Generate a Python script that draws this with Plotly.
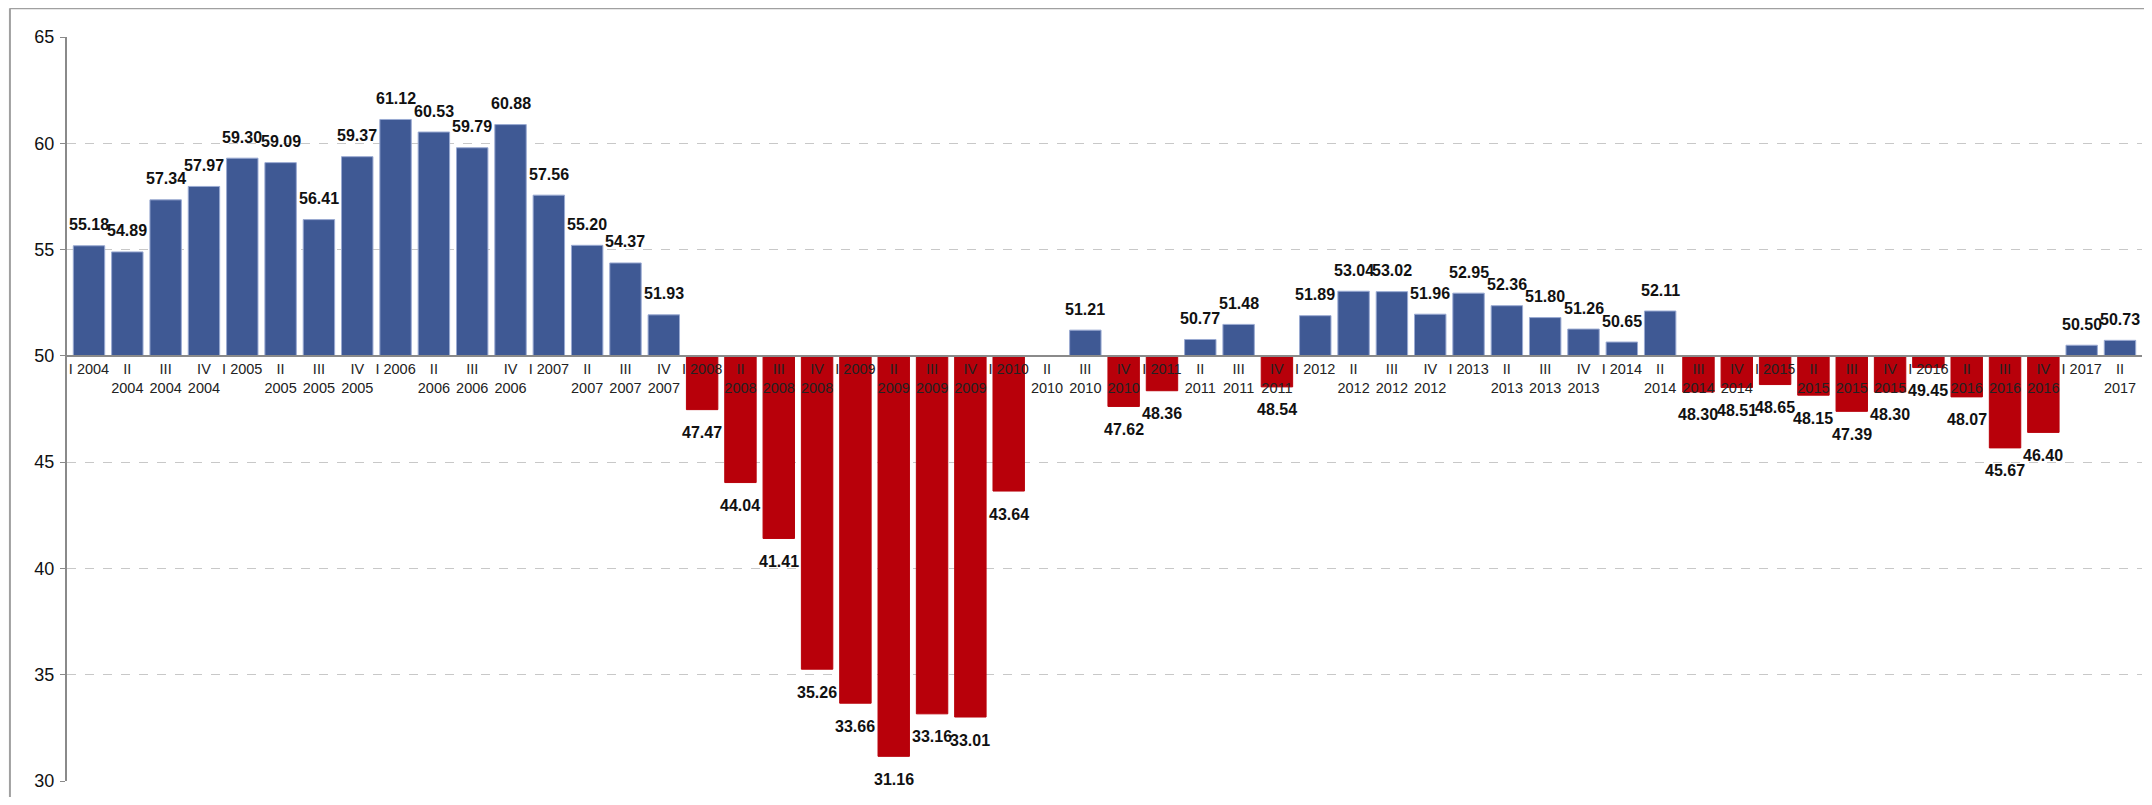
import plotly.graph_objects as go

years = [2004, 2005, 2006, 2007, 2008, 2009, 2010, 2011, 2012, 2013, 2014, 2015, 2016, 2017]
quarters = ["I", "II", "III", "IV"]

values = [
    55.18, 54.89, 57.34, 57.97,
    59.30, 59.09, 56.41, 59.37,
    61.12, 60.53, 59.79, 60.88,
    57.56, 55.20, 54.37, 51.93,
    47.47, 44.04, 41.41, 35.26,
    33.66, 31.16, 33.16, 33.01,
    43.64, None, 51.21, 47.62,
    48.36, 50.77, 51.48, 48.54,
    51.89, 53.04, 53.02, 51.96,
    52.95, 52.36, 51.80, 51.26,
    50.65, 52.11, 48.30, 48.51,
    48.65, 48.15, 47.39, 48.30,
    49.45, 48.07, 45.67, 46.40,
    50.50, 50.73,
]

BASE = 50
y_ticks = [30, 35, 40, 45, 50, 55, 60, 65]

labels = []
for yr in years:
    for q in quarters:
        if len(labels) >= len(values):
            break
        labels.append(f"I {yr}" if q == "I" else f"{q}<br>{yr}")

BLUE = "#3F5994"
RED = "#B8000A"

delta = [(v - BASE) if v is not None else None for v in values]
colors = [BLUE if (v is not None and v >= BASE) else RED for v in values]
line_colors = ["#9AAAD2" if (v is not None and v >= BASE) else RED for v in values]

NARROW = "Liberation Sans Narrow, Arial Narrow, Liberation Sans, Arial, sans-serif"
ARIAL = "Liberation Sans, Arial, sans-serif"

fig = go.Figure()
fig.add_trace(go.Bar(
    x=labels, y=delta, base=BASE,
    marker=dict(color=colors, line=dict(color=line_colors, width=1)),
    hoverinfo="skip", showlegend=False,
))

annotations = []
for lab, v in zip(labels, values):
    if v is None:
        continue
    up = v >= BASE
    annotations.append(dict(
        x=lab, y=v, xref="x", yref="y",
        text=f"{v:.2f}", showarrow=False,
        yshift=21 if up else -23, yanchor="middle",
        font=dict(family=NARROW, size=16, color="#111111", weight="bold"),
    ))

ymin, ymax = 30, 65
fig.update_layout(
    width=2136, height=789,
    margin=dict(l=59, r=2, t=29, b=16),
    paper_bgcolor="white", plot_bgcolor="white",
    bargap=0.18,
    annotations=annotations,
    xaxis=dict(
        type="category",
        anchor="free",
        position=(BASE - ymin) / (ymax - ymin),
        showline=True, linecolor="#8a8a8a", linewidth=2,
        showgrid=False, ticks="",
        tickfont=dict(family=NARROW, size=14.5, color="#222222"),
        tickangle=0,
    ),
    yaxis=dict(
        range=[ymin, ymax],
        tickvals=y_ticks,
        showline=True, linecolor="#8a8a8a", linewidth=2,
        ticks="outside", ticklen=5, tickcolor="#8a8a8a",
        ticklabelstandoff=2,
        showgrid=True, gridcolor="#c8c8c8", griddash="dash", gridwidth=1,
        zeroline=False,
        tickfont=dict(family=ARIAL, size=18, color="#111111"),
    ),
    shapes=[
        dict(type="line", xref="paper", yref="paper", x0=-0.0275, x1=1.01, y0=1.0385, y1=1.0385,
             line=dict(color="#a0a0a0", width=2)),
        dict(type="line", xref="paper", yref="paper", x0=-0.0275, x1=-0.0275, y0=-0.03, y1=1.0385,
             line=dict(color="#a0a0a0", width=2)),
    ],
)

fig.write_html("out.html")
